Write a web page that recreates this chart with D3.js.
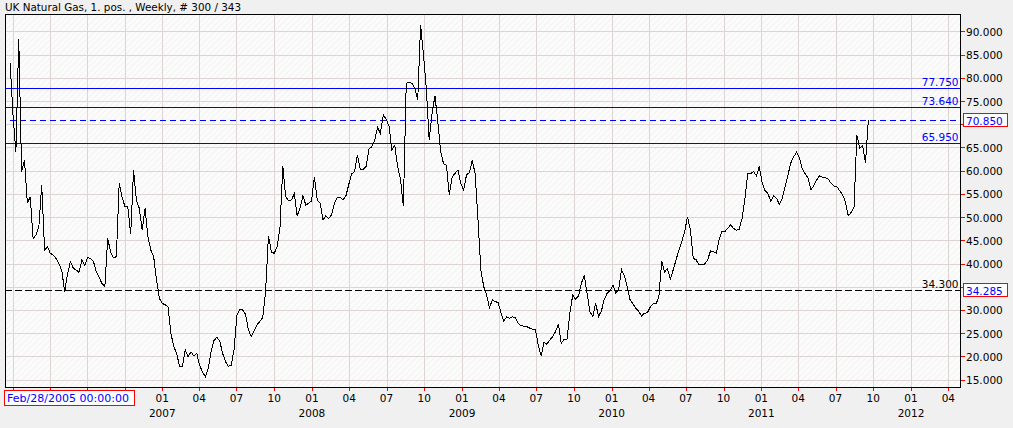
<!DOCTYPE html>
<html><head><meta charset="utf-8">
<script src="https://cdn.jsdelivr.net/npm/d3@7"></script>
<style>
body{margin:0;background:#f0f0f0;}
svg{display:block;font-family:"DejaVu Sans",sans-serif;}
</style></head>
<body><svg id="c" width="1013" height="428"></svg>
<script>
// ---------- data ----------
const title = "UK Natural Gas, 1. pos. , Weekly, # 300 / 343";
const firstWeek = Date.UTC(2005, 11, 26);   // date of first weekly bar
const prices = [
 83.1,72.0,64.0,88.3,59.8,62.3,53.0,54.4,45.4,46.1,
 47.9,57.0,42.9,43.6,42.2,41.8,41.1,40.0,38.5,33.9,
 37.8,40.4,39.0,38.6,38.1,40.8,39.5,41.3,41.1,40.5,
 38.3,37.0,35.7,35.0,45.4,42.5,41.2,41.5,57.3,54.3,
 52.25,52.2,46.3,60.15,53.5,51.9,47.2,51.9,45.8,42.9,
 41.5,36.5,32.5,31.4,31.1,30.7,25.0,22.1,20.7,17.9,
 17.8,21.4,19.9,21.0,20.1,20.7,18.1,16.7,15.6,17.4,
 21.0,23.4,24.1,23.4,20.7,18.9,17.9,18.1,21.4,28.9,
 30.0,30.0,29.1,25.7,24.25,25.5,26.8,27.5,28.4,34.0,
 46.0,42.5,42.2,43.6,47.6,60.9,54.4,53.5,53.7,55.0,
 50.3,51.9,54.6,52.6,53.0,53.5,58.7,53.7,53.0,49.4,
 50.3,49.7,50.5,53.0,54.2,54.3,53.7,54.6,57.1,59.3,
 59.8,63.4,60.15,60.3,60.9,64.6,65.2,66.5,69.3,68.05,
 72.0,71.1,69.6,64.5,65.5,60.9,58.2,52.3,78.8,79.1,
 78.8,77.75,75.2,91.4,85.0,77.75,66.6,72.4,76.1,70.6,
 64.1,61.5,61.2,54.8,58.7,59.4,60.15,57.3,55.85,59.1,
 59.6,62.2,59.4,49.4,38.6,35.0,33.2,30.5,32.2,31.8,
 31.6,29.4,27.6,28.55,28.2,28.55,28.3,27.1,26.6,26.5,
 26.4,26.1,25.8,25.7,22.45,20.1,23.0,22.6,23.5,24.25,
 25.3,27.0,22.8,23.7,23.7,29.3,33.2,32.3,33.0,35.7,
 37.5,33.6,29.6,28.6,31.4,28.6,29.8,32.3,33.6,34.1,
 35.4,33.7,34.3,38.7,37.3,35.0,32.15,31.3,30.35,29.7,
 28.7,29.3,29.4,30.6,31.3,31.3,32.7,40.5,38.2,38.9,
 36.7,38.6,40.8,42.9,44.7,46.9,50.1,47.2,41.1,40.8,
 39.7,39.7,39.9,40.8,42.7,42.6,42.2,45.1,46.9,46.9,
 47.6,48.3,47.6,47.2,47.4,49.7,54.05,59.4,59.4,59.8,
 58.9,60.9,57.5,55.7,55.1,53.4,54.6,54.05,52.75,54.05,
 56.55,59.1,61.7,63.0,64.0,62.8,60.4,59.3,58.4,55.85,
 56.8,58.0,58.9,58.6,58.5,58.2,57.3,56.7,56.6,55.7,
 54.9,53.3,50.3,51.0,52.1,67.7,64.8,65.5,61.7,70.85
];
const yTickValues = [15,20,25,30,35,40,45,50,55,60,65,70,75,80,85,90];
const blueLevels = [77.75, 73.64, 65.95];
const blueLevelLabels = ["77.750", "73.640", "65.950"];
const lastPrice = 70.85;
const lastPriceLabel = "70.850";
const supportLevel = 34.3;
const supportLabel = "34.300";
const cursorPrice = 34.285;
const cursorPriceLabel = "34.285";
const cursorDateLabel = "Feb/28/2005 00:00:00";

// ---------- layout ----------
const W = 1013, H = 428;
const L = 5, T = 14, R = 960, B = 387;
const BLUE = "#0000ff", RED = "#ff0000";
const svg = d3.select("#c");
const fmt = d3.format(".3f");

const series = prices.map((v, i) => ({date: new Date(firstWeek + i * 7 * 864e5), v}));

const x = d3.scaleUtc()
  .domain([new Date(Date.UTC(2006,0,1)), new Date(Date.UTC(2012,0,1))])
  .range([12.6, 911]);
const y = d3.scaleLinear().domain([13.4, 93.76]).range([B, T]);

svg.append("rect").attr("width", W).attr("height", H).attr("fill", "#f0f0f0");

const defs = svg.append("defs");
const pat = defs.append("pattern").attr("id", "hatch").attr("patternUnits", "userSpaceOnUse")
  .attr("width", 6).attr("height", 6);
pat.append("rect").attr("width", 6).attr("height", 6).attr("fill", "#fbfbfb");
pat.append("path").attr("d", "M-1,1 L1,-1 M0,6 L6,0 M5,7 L7,5").attr("stroke", "#f1f1f1").attr("stroke-width", 1);
defs.append("clipPath").attr("id", "clip").append("rect")
  .attr("x", L).attr("y", T).attr("width", R - L).attr("height", B - T);

svg.append("rect").attr("x", L).attr("y", T).attr("width", R - L).attr("height", B - T)
  .attr("fill", "url(#hatch)");

// grid
const quarters = d3.utcMonth.every(3).range(x.invert(L), x.invert(R));
const grid = svg.append("g").attr("shape-rendering", "crispEdges");
grid.selectAll("line.h").data(yTickValues).join("line").attr("class", "h")
  .attr("x1", L).attr("x2", R)
  .attr("y1", d => Math.round(y(d)) + 0.5).attr("y2", d => Math.round(y(d)) + 0.5)
  .attr("stroke", "#ddd4d4");
grid.selectAll("line.v").data(quarters).join("line").attr("class", "v")
  .attr("y1", T).attr("y2", B)
  .attr("x1", d => Math.round(x(d)) + 0.5).attr("x2", d => Math.round(x(d)) + 0.5)
  .attr("stroke", "#ddd4d4");

// level lines
const lv = svg.append("g").attr("clip-path", "url(#clip)").attr("shape-rendering", "crispEdges");
lv.selectAll("line.bl").data(blueLevels).join("line").attr("class", "bl")
  .attr("x1", L).attr("x2", R)
  .attr("y1", d => Math.round(y(d)) + 0.5).attr("y2", d => Math.round(y(d)) + 0.5)
  .attr("stroke", BLUE);
lv.append("line")
  .attr("x1", x(series[0].date)).attr("x2", R)
  .attr("y1", Math.round(y(lastPrice)) + 0.5).attr("y2", Math.round(y(lastPrice)) + 0.5)
  .attr("stroke", BLUE).attr("stroke-dasharray", "6,4");
lv.append("line")
  .attr("x1", L).attr("x2", R)
  .attr("y1", Math.round(y(supportLevel)) + 0.5).attr("y2", Math.round(y(supportLevel)) + 0.5)
  .attr("stroke", "#000").attr("stroke-dasharray", "7,3");

// level labels
svg.selectAll("text.bl").data(blueLevels).join("text").attr("class", "bl")
  .attr("x", R - 1.5).attr("y", d => y(d) - 2)
  .attr("text-anchor", "end").attr("font-size", 10.5).attr("fill", BLUE)
  .text((d, i) => blueLevelLabels[i]);
svg.append("text").attr("x", R - 1.5).attr("y", y(supportLevel) - 2)
  .attr("text-anchor", "end").attr("font-size", 10.5).attr("fill", "#000")
  .text(supportLabel);

// price line
const line = d3.line().x(d => x(d.date)).y(d => y(d.v));
svg.append("path").datum(series).attr("clip-path", "url(#clip)")
  .attr("d", line).attr("fill", "none").attr("stroke", "#000").attr("stroke-width", 1)
  .attr("shape-rendering", "crispEdges");

// frame
svg.append("rect").attr("x", L + 0.5).attr("y", T + 0.5).attr("width", R - L).attr("height", B - T)
  .attr("fill", "none").attr("stroke", "#000").attr("shape-rendering", "crispEdges");

// right axis
const ra = svg.append("g");
ra.selectAll("line").data(yTickValues).join("line")
  .attr("x1", R + 1).attr("x2", R + 5)
  .attr("y1", d => Math.round(y(d)) + 0.5).attr("y2", d => Math.round(y(d)) + 0.5)
  .attr("stroke", RED).attr("shape-rendering", "crispEdges");
const boxed = [lastPrice, cursorPrice];
ra.selectAll("text").data(yTickValues.filter(v => boxed.every(b => Math.abs(y(v) - y(b)) > 12)))
  .join("text")
  .attr("x", R + 6).attr("y", d => y(d) + 4.5)
  .attr("font-size", 10.5).attr("fill", "#000")
  .text(d => fmt(d));

function priceBox(v, label) {
  const cy = y(v);
  svg.append("rect").attr("x", R + 3.5).attr("y", Math.round(cy) - 6.5).attr("width", 44).attr("height", 13)
    .attr("fill", "#fff").attr("stroke", RED).attr("shape-rendering", "crispEdges");
  svg.append("text").attr("x", R + 6).attr("y", cy + 4.5).attr("font-size", 10.5).attr("fill", BLUE).text(label);
}
priceBox(lastPrice, lastPriceLabel);
priceBox(cursorPrice, cursorPriceLabel);

// bottom axis
const ba = svg.append("g");
ba.selectAll("line").data(quarters).join("line")
  .attr("x1", d => Math.round(x(d)) + 0.5).attr("x2", d => Math.round(x(d)) + 0.5)
  .attr("y1", B + 1).attr("y2", B + 4)
  .attr("stroke", RED).attr("shape-rendering", "crispEdges");
const labelled = quarters.filter(d => x(d) > 140);
ba.selectAll("text.m").data(labelled).join("text").attr("class", "m")
  .attr("x", d => x(d)).attr("y", 402).attr("text-anchor", "middle")
  .attr("font-size", 10.5).attr("fill", "#000")
  .text(d => d3.utcFormat("%m")(d));
ba.selectAll("text.yr").data(labelled.filter(d => d.getUTCMonth() === 0)).join("text").attr("class", "yr")
  .attr("x", d => x(d)).attr("y", 417).attr("text-anchor", "middle")
  .attr("font-size", 10.5).attr("fill", "#000")
  .text(d => d3.utcFormat("%Y")(d));

// cursor date box
svg.append("rect").attr("x", 4.5).attr("y", 390.5).attr("width", 130).attr("height", 15)
  .attr("fill", "#fff").attr("stroke", RED).attr("shape-rendering", "crispEdges");
svg.append("text").attr("x", 7).attr("y", 402).attr("font-size", 10.5).attr("fill", BLUE)
  .attr("textLength", 122).attr("lengthAdjust", "spacingAndGlyphs").text(cursorDateLabel);

// title
svg.append("text").attr("x", 5).attr("y", 10.5).attr("font-size", 10.5).attr("fill", "#000")
  .attr("textLength", 236).attr("lengthAdjust", "spacingAndGlyphs").text(title);
</script></body></html>
